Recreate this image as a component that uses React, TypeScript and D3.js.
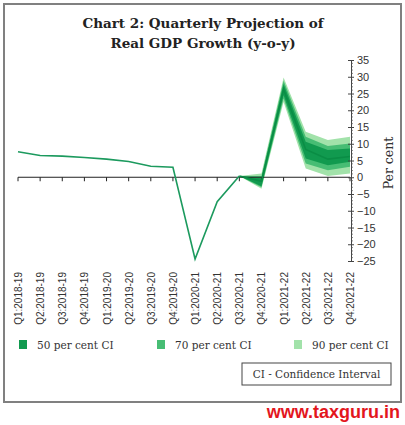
import * as d3 from "d3";
import { useEffect, useRef } from "react";

const quarters = [
    "Q1:2018-19", "Q2:2018-19", "Q3:2018-19", "Q4:2018-19",
    "Q1:2019-20", "Q2:2019-20", "Q3:2019-20", "Q4:2019-20",
    "Q1:2020-21", "Q2:2020-21", "Q3:2020-21", "Q4:2020-21",
    "Q1:2021-22", "Q2:2021-22", "Q3:2021-22", "Q4:2021-22"
];

// actual growth, Q1:2018-19 .. Q3:2020-21
const actual = [7.6, 6.5, 6.3, 5.9, 5.4, 4.7, 3.3, 3.0, -24.4, -7.3, 0.4];

// projection from Q3:2020-21 .. Q4:2021-22
const projStart = 10;
const median = [0.4, -1.2, 26.2, 8.3, 5.4, 6.2];
const ci90High = [0.4, 1.1, 29.8, 13.6, 11.1, 12.1];
const ci90Low = [0.4, -3.4, 22.5, 2.6, 0.4, 1.1];
const ci70High = [0.4, 0.4, 28.8, 12.1, 9.3, 10.1];
const ci70Low = [0.4, -3.0, 23.5, 4.1, 2.1, 3.1];
const ci50High = [0.4, -0.3, 27.8, 10.6, 8.1, 8.6];
const ci50Low = [0.4, -2.7, 24.5, 5.6, 3.6, 4.6];

const legendLabels = ["50 per cent CI", "70 per cent CI", "90 per cent CI"];
const bandColors = ["#119a4f", "#47bd74", "#a2e2aa"];

const App = () => {
    const ref = useRef<SVGSVGElement>(null);

    useEffect(() => {
        const svg = d3.select(ref.current);
        svg.selectAll("*").remove();

        const x = d3.scalePoint<string>().domain(quarters).range([18, 350]);
        const y = d3.scaleLinear().domain([-25, 35]).range([261, 60]);

        // frame
        svg.append("rect")
            .attr("x", 4).attr("y", 4).attr("width", 397).attr("height", 398)
            .attr("fill", "white").attr("stroke", "#808080").attr("stroke-width", 2);

        // title
        const title = svg.append("text")
            .attr("text-anchor", "middle")
            .attr("font-family", "'DejaVu Serif', serif")
            .attr("font-weight", "bold")
            .attr("font-size", 13.5)
            .attr("fill", "#222");
        title.append("tspan").attr("x", 203).attr("y", 28).text("Chart 2: Quarterly Projection of");
        title.append("tspan").attr("x", 203).attr("y", 48).text("Real GDP Growth (y-o-y)");

        // fan bands
        const idx = median.map((_, i) => i + projStart);
        const band = (lo: number[], hi: number[]) => d3.area<number>()
            .x(i => x(quarters[idx[i]])!)
            .y0(i => y(lo[i]))
            .y1(i => y(hi[i]));
        const ii = d3.range(median.length);
        svg.append("path").attr("d", band(ci90Low, ci90High)(ii)).attr("fill", bandColors[2]);
        svg.append("path").attr("d", band(ci70Low, ci70High)(ii)).attr("fill", bandColors[1]);
        svg.append("path").attr("d", band(ci50Low, ci50High)(ii)).attr("fill", bandColors[0]);

        // zero axis
        svg.append("line")
            .attr("x1", x(quarters[0])!).attr("x2", x(quarters[15])!)
            .attr("y1", y(0)).attr("y2", y(0))
            .attr("stroke", "#222").attr("stroke-width", 1);
        svg.append("g").selectAll("line")
            .data(quarters)
            .enter()
            .append("line")
            .attr("x1", d => x(d)!).attr("x2", d => x(d)!)
            .attr("y1", y(0)).attr("y2", y(0) + 4)
            .attr("stroke", "#222");

        // lines
        const line = d3.line<number>().x((_, i) => x(quarters[i])!).y(d => y(d));
        svg.append("path").attr("d", line(actual))
            .attr("fill", "none").attr("stroke", "#1c9a5e").attr("stroke-width", 1.6);
        const projLine = d3.line<number>().x((_, i) => x(quarters[i + projStart])!).y(d => y(d));
        svg.append("path").attr("d", projLine(median))
            .attr("fill", "none").attr("stroke", "#0a8d45").attr("stroke-width", 1.6);

        // right axis
        const yAxis = svg.append("g")
            .attr("transform", "translate(351,0)")
            .call(d3.axisRight(y).tickValues(d3.range(-25, 36, 5)).tickSize(3).tickPadding(3).tickFormat(d3.format("d")));
        yAxis.select(".domain").attr("stroke", "#444");
        yAxis.selectAll(".tick line").attr("x1", -3).attr("stroke", "#444");
        yAxis.selectAll("text")
            .attr("font-family", "'Liberation Sans', sans-serif")
            .attr("font-size", 11).attr("fill", "#333");
        svg.append("g")
            .attr("transform", "translate(351,0)")
            .selectAll("line")
            .data(d3.range(-25, 36, 1).filter(v => v % 5 !== 0))
            .enter()
            .append("line")
            .attr("x1", 0).attr("x2", 2)
            .attr("y1", d => y(d)).attr("y2", d => y(d))
            .attr("stroke", "#555").attr("stroke-width", 0.7);

        svg.append("text")
            .attr("transform", "translate(393,163) rotate(-90)")
            .attr("text-anchor", "middle")
            .attr("font-family", "'DejaVu Serif', serif")
            .attr("font-size", 12.5).attr("fill", "#333")
            .text("Per cent");

        // x labels
        svg.append("g").selectAll("text")
            .data(quarters)
            .enter()
            .append("text")
            .attr("transform", d => "translate(" + (x(d)! + 4) + ",272) rotate(-90)")
            .attr("text-anchor", "end")
            .attr("font-family", "'Liberation Sans', sans-serif")
            .attr("font-size", 10).attr("fill", "#333")
            .text(d => d);

        // legend
        const legendX = [19, 157, 294];
        const lg = svg.append("g").selectAll("g")
            .data(legendLabels)
            .enter()
            .append("g")
            .attr("transform", (_, i) => "translate(" + legendX[i] + ",340)");
        lg.append("rect").attr("width", 8).attr("height", 9).attr("fill", (_, i) => bandColors[i]);
        lg.append("text")
            .attr("x", 18).attr("y", 9)
            .attr("font-family", "'DejaVu Serif', serif")
            .attr("font-size", 10.5).attr("fill", "#333")
            .text(d => d);

        svg.append("rect")
            .attr("x", 242).attr("y", 363).attr("width", 149).attr("height", 22)
            .attr("fill", "white").attr("stroke", "#444").attr("stroke-width", 1);
        svg.append("text")
            .attr("x", 316.5).attr("y", 378)
            .attr("text-anchor", "middle")
            .attr("font-family", "'DejaVu Serif', serif")
            .attr("font-size", 10.5).attr("fill", "#333")
            .text("CI - Confidence Interval");

        svg.append("text")
            .attr("x", 400).attr("y", 418)
            .attr("text-anchor", "end")
            .attr("font-family", "'Liberation Sans', Arial, sans-serif")
            .attr("font-weight", "bold")
            .attr("font-size", 18).attr("fill", "#e3161d")
            .text("www.taxguru.in");
    });

    return (
        <svg ref={ref} width="405" height="425" style={{ position: "absolute", left: 0, top: 0 }} />
    );
};

export default App;
